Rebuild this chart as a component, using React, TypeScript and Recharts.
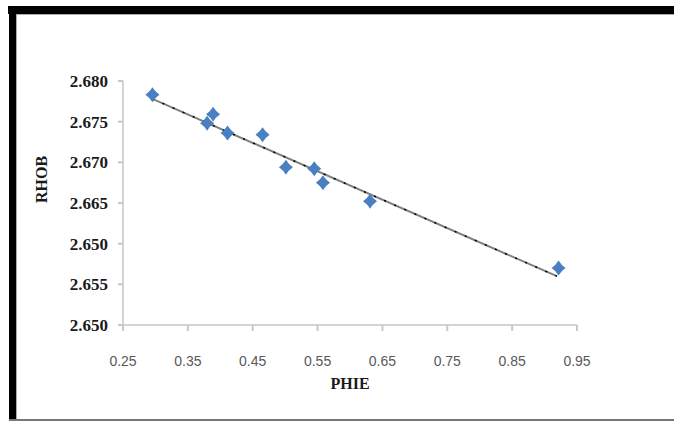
import React from "react";
import { ScatterChart, Scatter, XAxis, YAxis, ReferenceLine } from "recharts";

const phie = [0.2954, 0.3797, 0.3889, 0.4112, 0.4652, 0.5012, 0.5449, 0.5583, 0.6309, 0.9216];
const rhob = [2.6783, 2.6748, 2.6759, 2.6736, 2.6734, 2.6694, 2.6692, 2.6675, 2.6652, 2.657];

const xTicks = [0.25, 0.35, 0.45, 0.55, 0.65, 0.75, 0.85, 0.95];
const xTickLabels = ["0.25", "0.35", "0.45", "0.55", "0.65", "0.75", "0.85", "0.95"];
const yTicks = [2.65, 2.655, 2.66, 2.665, 2.67, 2.675, 2.68];
const yTickLabels = ["2.650", "2.655", "2.650", "2.665", "2.670", "2.675", "2.680"];

const trendX = [0.2954, 0.919];
const trendY = [2.6778, 2.656];

const points = phie.map((x, i) => ({ x, y: rhob[i] }));

const Diamond = (props: any) => {
  const { cx, cy } = props;
  if (cx == null || cy == null) return null;
  const w = 7;
  const h = 7.5;
  const c = 2.8;
  return (
    <path
      d={`M${cx},${cy - h} Q${cx + c},${cy - c} ${cx + w},${cy} Q${cx + c},${cy + c} ${cx},${cy + h} Q${cx - c},${cy + c} ${cx - w},${cy} Q${cx - c},${cy - c} ${cx},${cy - h} Z`}
      fill="#4a7fc1"
    />
  );
};

export default function App() {
  const seg = [
    { x: trendX[0], y: trendY[0] },
    { x: trendX[1], y: trendY[1] },
  ];
  return (
    <div style={{ position: "absolute", left: 0, top: 0, width: 674, height: 421, background: "#fff" }}>
      <div style={{ position: "absolute", left: 8, top: 6, width: 666, height: 8, background: "#000" }} />
      <div style={{ position: "absolute", left: 16, top: 14, width: 658, height: 1, background: "#aaa" }} />
      <div style={{ position: "absolute", left: 9, top: 6, width: 7, height: 415, background: "#000" }} />
      <div style={{ position: "absolute", left: 16, top: 14, width: 1, height: 405, background: "#aaa" }} />
      <div style={{ position: "absolute", left: 9, top: 419, width: 665, height: 2, background: "#777" }} />
      <div style={{ position: "absolute", left: 0, top: 0 }}>
        <ScatterChart width={674} height={421} margin={{ top: 81, right: 97, bottom: 36, left: 63 }}>
          <XAxis
            type="number"
            dataKey="x"
            domain={[0.25, 0.95]}
            ticks={xTicks}
            tickFormatter={(v: number, i: number) => xTickLabels[i] ?? String(v)}
            stroke="#d4d4d4"
            strokeWidth={2}
            tickSize={6}
            tickMargin={25}
            height={60}
            tick={{ fill: "#595959", fontSize: 14, fontFamily: "'Liberation Sans Narrow', 'Liberation Sans', sans-serif" }}
            tickLine={{ stroke: "#c8c8c8", strokeWidth: 2 }}
            label={{
              value: "PHIE",
              position: "insideBottom",
              offset: -4,
              fill: "#1a1a1a",
              fontSize: 16,
              fontWeight: "bold",
              fontFamily: "'Liberation Serif', 'Times New Roman', serif",
            }}
            interval={0}
          />
          <YAxis
            type="number"
            dataKey="y"
            domain={[2.65, 2.68]}
            ticks={yTicks}
            tickFormatter={(v: number, i: number) => yTickLabels[i] ?? String(v)}
            stroke="#d4d4d4"
            strokeWidth={2}
            tickSize={5}
            tickMargin={10}
            width={60}
            tick={{ fill: "#1a1a1a", fontSize: 17, fontWeight: "bold", fontFamily: "'Liberation Serif', 'Times New Roman', serif" }}
            tickLine={{ stroke: "#c8c8c8", strokeWidth: 2 }}
            interval={0}
            label={{
              value: "RHOB",
              angle: -90,
              position: "insideLeft",
              offset: 0,
              dx: -22,
              dy: 0,
              fill: "#1a1a1a",
              fontSize: 16,
              fontWeight: "bold",
              fontFamily: "'Liberation Serif', 'Times New Roman', serif",
            }}
          />
          <Scatter data={points} shape={<Diamond />} isAnimationActive={false} />
          <ReferenceLine segment={seg} stroke="#808080" strokeWidth={2} />
          <ReferenceLine segment={seg} stroke="#000" strokeWidth={1.5} strokeDasharray="2 9" />
        </ScatterChart>
      </div>
    </div>
  );
}
